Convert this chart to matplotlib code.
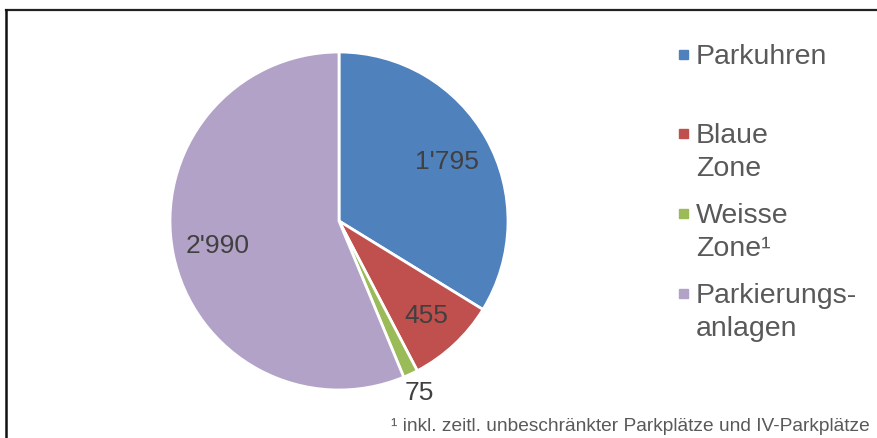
import matplotlib.pyplot as plt
from matplotlib.lines import Line2D
from matplotlib.patches import Rectangle
import numpy as np

plt.rcParams['font.family'] = ['Liberation Sans', 'DejaVu Sans']

# Data
categories = ["Parkuhren", "Blaue\nZone", "Weisse\nZone\u00b9", "Parkierungs-\nanlagen"]
values = [1795, 455, 75, 2990]
value_labels = ["1'795", "455", "75", "2'990"]
colors = ['#4F81BD', '#C0504D', '#9BBB59', '#B3A2C7']

W, H = 877, 439
fig = plt.figure(figsize=(W / 100, H / 100), dpi=100)

# pie axes: centre (339, 222) px, radius 169 px
cx, cy, r = 339, 222, 169
ax = fig.add_axes([(cx - r) / W, (H - cy - r) / H, 2 * r / W, 2 * r / H])
wedges, _ = ax.pie(values, colors=colors, startangle=90, counterclock=False,
                   radius=1, wedgeprops=dict(edgecolor='white', linewidth=2))
ax.set_xlim(-1, 1)
ax.set_ylim(-1, 1)
ax.axis('off')

# value labels
dists = [0.73, 0.76, 1.12, 0.73]
for w, lab, d in zip(wedges, value_labels, dists):
    ang = np.deg2rad((w.theta1 + w.theta2) / 2)
    ax.text(d * np.cos(ang), d * np.sin(ang), lab, ha='center', va='center',
            fontsize=19, color='#404040', clip_on=False)

# legend drawn by hand (baseline of last line placed, 33 px per line)
leg_y = [55, 134, 214, 294]
for y, lab, c in zip(leg_y, categories, colors):
    fig.patches.append(Rectangle((679 / W, 1 - (y + 5) / H), 9 / W, 9 / H,
                                 transform=fig.transFigure, color=c))
    n = lab.count("\n")
    fig.text(696 / W, 1 - (y + 9 + 33 * n) / H, lab, ha='left', va='baseline',
             fontsize=20.5, color='#595959', linespacing=1.33)

# footnote
fig.text(870 / W, 1 - 427 / H,
         "\u00b9 inkl. zeitl. unbeschr\u00e4nkter Parkpl\u00e4tze und IV-Parkpl\u00e4tze",
         ha='right', va='center', fontsize=13.8, color='#595959')

# frame (top and left edges)
fig.lines.append(Line2D([6 / W, 1], [1 - 11 / H, 1 - 11 / H], transform=fig.transFigure,
                        color='#222222', linewidth=1.6))
fig.lines.append(Line2D([6 / W, 6 / W], [0, 1 - 11 / H], transform=fig.transFigure,
                        color='#111111', linewidth=1.8))

fig.savefig("out.png", dpi=100)
